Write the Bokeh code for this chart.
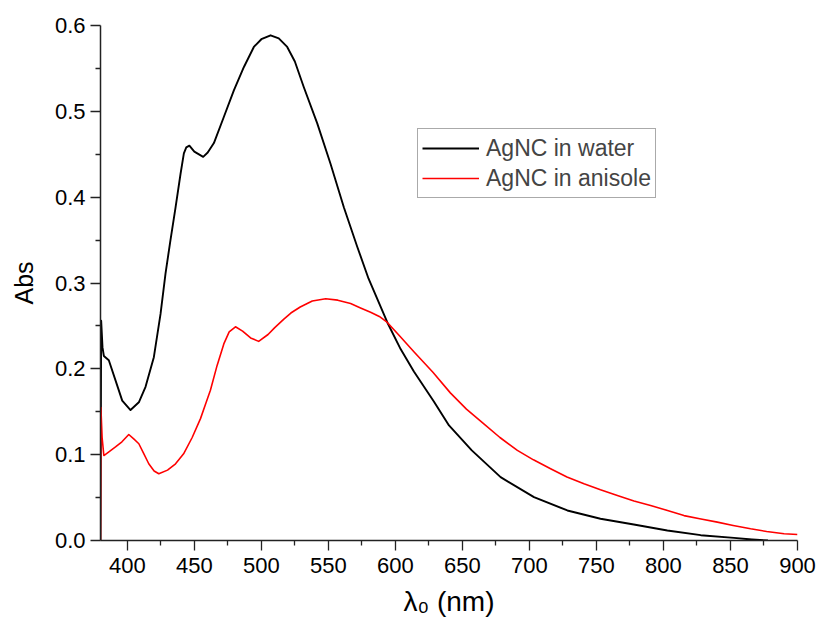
from bokeh.plotting import figure
from bokeh.models import Range1d, FixedTicker, PrintfTickFormatter, Legend, LegendItem
from bokeh.embed import file_html
from bokeh.resources import INLINE

# AgNC in water (black)
wl_water = [380.0, 380.5, 381.5, 382.5, 386.2, 391.2, 396.2, 402.4, 408.6, 413.6, 419.8,
            424.8, 428.5, 432.2, 436, 439.7, 442.2, 444, 446.3, 450, 456.6, 460, 464.6,
            472, 479.5, 487, 494.4, 500, 506.9, 513, 519.3, 525, 531.7, 541.7, 551.6,
            561.6, 571.6, 580, 594, 603.9, 613.8, 628.7, 640, 657, 678.5, 703.4, 728.3,
            753, 777.9, 802.9, 827.8, 852.6, 866, 878]
abs_water = [0.0, 0.256, 0.225, 0.215, 0.210, 0.1865, 0.163, 0.152, 0.161, 0.179, 0.2136,
             0.264, 0.311, 0.350, 0.388, 0.427, 0.451, 0.458, 0.460, 0.453, 0.447, 0.452,
             0.463, 0.4934, 0.5245, 0.5517, 0.575, 0.584, 0.5886, 0.585, 0.575, 0.558,
             0.528, 0.486, 0.439, 0.388, 0.342, 0.305, 0.254, 0.223, 0.197, 0.162, 0.134,
             0.105, 0.0738, 0.0505, 0.035, 0.0253, 0.0186, 0.0117, 0.0062, 0.003, 0.0012, 0.0]

# AgNC in anisole (red)
wl_anisole = [380.0, 380.3, 381.2, 382.5, 386, 391.2, 396, 401.1, 405, 408.6, 412, 416, 420,
              423.5, 430, 436, 442, 448.4, 454.6, 458.4, 462, 467, 472, 476, 480.7, 486,
              492, 498, 505, 510, 516.8, 522, 529, 538, 548, 557, 566.6, 574, 581.5, 588,
              594, 603.9, 613.8, 628, 641, 653, 666, 678, 691, 703, 715.8, 728, 740.7, 753,
              765.6, 778, 790.4, 803, 815.3, 828, 840.2, 852, 865, 877, 890, 900]
abs_anisole = [0.0, 0.155, 0.12, 0.099, 0.103, 0.109, 0.115, 0.1235, 0.118, 0.1127, 0.102,
               0.0894, 0.081, 0.0777, 0.082, 0.0894, 0.101, 0.120, 0.142, 0.159, 0.175, 0.204,
               0.229, 0.243, 0.249, 0.244, 0.236, 0.232, 0.240, 0.248, 0.258, 0.265, 0.272,
               0.279, 0.2817, 0.280, 0.276, 0.271, 0.266, 0.261, 0.254, 0.237, 0.220, 0.196,
               0.172, 0.153, 0.136, 0.120, 0.105, 0.094, 0.0835, 0.074, 0.066, 0.059, 0.0524,
               0.046, 0.0408, 0.035, 0.029, 0.025, 0.0214, 0.0175, 0.0136, 0.0105, 0.0078,
               0.007]

x_ticks = [400, 450, 500, 550, 600, 650, 700, 750, 800, 850, 900]
x_minor = [425, 475, 525, 575, 625, 675, 725, 775, 825, 875]
y_ticks = [0.0, 0.1, 0.2, 0.3, 0.4, 0.5, 0.6]
y_minor = [0.05, 0.15, 0.25, 0.35, 0.45, 0.55]

FONT = "Liberation Sans"

p = figure(width=822, height=624, output_backend="svg", toolbar_location=None,
           x_range=Range1d(380, 900), y_range=Range1d(0, 0.6),
           min_border_left=100, min_border_right=25, min_border_top=25, min_border_bottom=84)
p.outline_line_color = None
p.grid.grid_line_color = None
p.background_fill_color = "white"
p.border_fill_color = "white"

r_water = p.line(wl_water, abs_water, line_color="black", line_width=1.9,
                 line_join="round")
r_anis = p.line(wl_anisole, abs_anisole, line_color="#ff0000", line_width=1.6,
                line_join="round")

for ax in (p.xaxis[0], p.yaxis[0]):
    ax.axis_line_color = "#222222"
    ax.axis_line_width = 1.5
    ax.major_tick_line_color = "#222222"
    ax.minor_tick_line_color = "#222222"
    ax.major_tick_line_width = 1.3
    ax.minor_tick_line_width = 1.3
    ax.major_tick_in = 0
    ax.minor_tick_in = 0
    ax.major_tick_out = 10
    ax.minor_tick_out = 5
    ax.major_label_text_font = FONT
    ax.major_label_text_font_size = "22px"
    ax.major_label_text_color = "black"
    ax.axis_label_text_font = FONT
    ax.axis_label_text_font_style = "normal"
    ax.axis_label_text_color = "black"

p.xaxis[0].ticker = FixedTicker(ticks=x_ticks, minor_ticks=x_minor)
p.yaxis[0].ticker = FixedTicker(ticks=y_ticks, minor_ticks=y_minor)
p.yaxis[0].formatter = PrintfTickFormatter(format="%.1f")
p.xaxis[0].major_label_standoff = 7
p.yaxis[0].major_label_standoff = 5
p.xaxis[0].axis_label = "λ₀ (nm)"
p.xaxis[0].axis_label_text_font_size = "28px"
p.xaxis[0].axis_label_standoff = 10
p.yaxis[0].axis_label = "Abs"
p.yaxis[0].axis_label_text_font_size = "25px"
p.yaxis[0].axis_label_standoff = 14

legend = Legend(items=[LegendItem(label="AgNC in water", renderers=[r_water]),
                       LegendItem(label="AgNC in anisole", renderers=[r_anis])],
                location=(317, 342), orientation="vertical")
legend.label_text_font = FONT
legend.label_text_font_size = "23px"
legend.label_height = 30
legend.glyph_height = 30
legend.glyph_width = 57
legend.label_standoff = 7
legend.padding = 4
legend.spacing = 0
legend.margin = 0
legend.border_line_color = "#555555"
legend.border_line_width = 1.2
legend.background_fill_alpha = 1.0
p.add_layout(legend, "center")

open("out.html", "w").write(file_html(p, INLINE))
